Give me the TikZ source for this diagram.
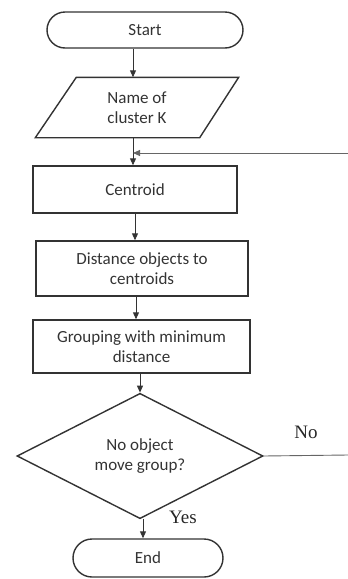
\documentclass[tikz,border=0pt]{standalone}
\usepackage{fontspec}
\setmainfont{Carlito}
\newfontfamily\labfont{Liberation Serif}
\usetikzlibrary{shapes.geometric,arrows.meta}
\begin{document}
\begin{tikzpicture}[x=1pt,y=-1pt,
  box/.style={draw=black!80, line width=1.4pt, rectangle, inner sep=0pt, align=center,
    font=\fontsize{17}{20}\selectfont, text=black!80},
  term/.style={box, rounded corners=18pt},
  arr/.style={draw=black!80, line width=0.9pt, -{Triangle[length=7pt,width=6pt]}},
  plain/.style={draw=black!60, line width=0.9pt},
  lbl/.style={font=\labfont\fontsize{19}{20}\selectfont, text=black!85}]
\useasboundingbox (0,0) rectangle (348,579);
\node[term, minimum width=196pt, minimum height=36pt] (start) at (145,30) {Start};
\node[box, draw=none, minimum width=202pt, minimum height=59pt] (io) at (137,107.5) {Name of\\cluster K};
\draw[black!80, line width=1.4pt] ([xshift=41pt]io.north west) -- (io.north east)
  -- ([xshift=-39pt]io.south east) -- (io.south west) -- cycle;
\node[box, minimum width=204pt, minimum height=47pt] (cen) at (135,189.5) {Centroid};
\node[box, minimum width=212pt, minimum height=55pt] (dist) at (142,268.5) {Distance objects to\\centroids};
\node[box, minimum width=217pt, minimum height=53pt] (grp) at (141.5,346.5) {Grouping with minimum\\distance};
\node[box, diamond, minimum width=246pt, minimum height=102pt] (dec) at (140,456) {No object\\move group?};
\node[term, rounded corners=19pt, minimum width=150pt, minimum height=38pt] (end) at (148,558) {End};
\coordinate (nr) at (348,455);
\coordinate (rr) at (348,153);
\coordinate (rj) at (133,153);
\draw[arr] ([xshift=-12pt]start.south) -- ([xshift=-4pt]io.north);
\draw[arr] ([xshift=-4pt]io.south) -- ([xshift=-2pt]cen.north);
\draw[arr, draw=black!60] (rr) -- (rj);
\draw[arr] (cen.south) -- ([xshift=-7pt]dist.north);
\draw[arr] ([xshift=-6pt]dist.south) -- ([xshift=-5.5pt]grp.north);
\draw[arr] ([xshift=-1.5pt]grp.south) -- (dec.north);
\draw[plain] (dec.east) -- (nr);
\draw[arr] ([xshift=3pt]dec.south) -- ([xshift=-5pt]end.north);
\node[lbl] (no) at (306,432) {No};
\node[lbl] (yes) at (183,517) {Yes};
\end{tikzpicture}
\end{document}
